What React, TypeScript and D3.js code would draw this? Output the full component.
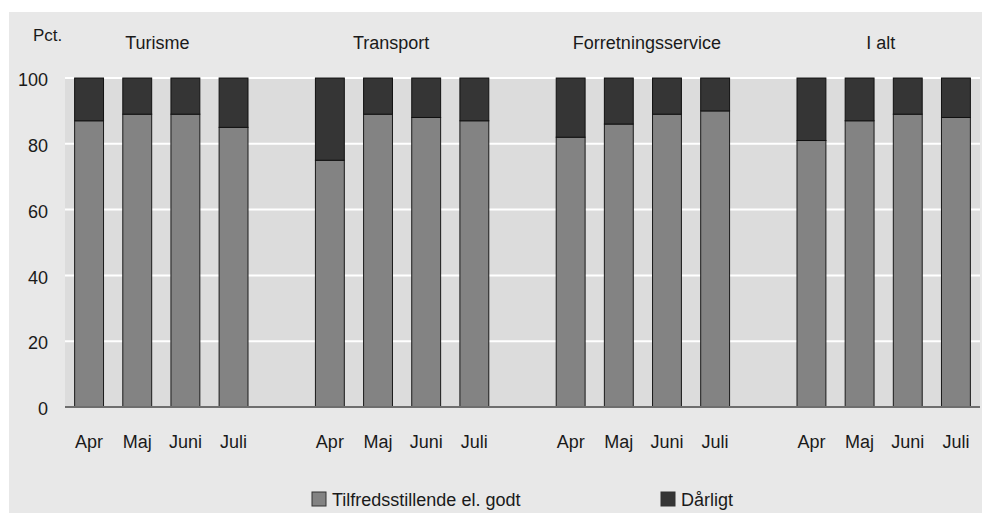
import React from 'react';
import * as d3 from 'd3';

const groups = ['Turisme', 'Transport', 'Forretningsservice', 'I alt'];
const months = ['Apr', 'Maj', 'Juni', 'Juli'];
// Tilfredsstillende el. godt, per group, Apr..Juli
const godt = [
    [87, 89, 89, 85],
    [75, 89, 88, 87],
    [82, 86, 89, 90],
    [81, 87, 89, 88],
];
const yTicks = [0, 20, 40, 60, 80, 100];
const seriesNames = ['Tilfredsstillende el. godt', 'Dårligt'];
const seriesColors = ['#838383', '#353535'];

const W = 982;
const H = 514;
const margin = { top: 78, right: 2, bottom: 107, left: 65 };
const font = '"Liberation Sans", Arial, sans-serif';
// group titles are not quite centred over their bars in the original
const titleShift = [-4, -11, 4, -3];

const App = () => {
    // one empty slot between the groups
    const keys: string[] = [];
    groups.forEach((g, gi) => {
        if (gi > 0) keys.push('gap' + gi);
        months.forEach(m => keys.push(g + '|' + m));
    });

    const x = d3.scaleBand<string>()
        .domain(keys)
        .range([margin.left, W - margin.right])
        .paddingInner(0.4)
        .paddingOuter(0.2);

    const y = d3.scaleLinear()
        .domain([0, 100])
        .range([H - margin.bottom, margin.top]);

    const bars = groups.flatMap((g, gi) => months.map((m, mi) => ({
        key: g + '|' + m,
        month: m,
        good: godt[gi][mi],
    })));

    const groupCenter = (g: string) => {
        const a = x(g + '|' + months[0])!;
        const b = x(g + '|' + months[months.length - 1])! + x.bandwidth();
        return (a + b) / 2;
    };

    return (
        <svg width={W} height={H} style={{ position: 'absolute', left: 0, top: 0 }} fontFamily={font}>
            <rect x={9} y={12} width={W - 9} height={H - 13} fill="#e8e8e8" />
            <rect x={margin.left} y={y(100)} width={W - margin.right - margin.left} height={y(0) - y(100)} fill="#dcdcdc" />

            {yTicks.filter(t => t > 0).map(t => (
                <line key={t} x1={margin.left} x2={W - margin.right} y1={y(t)} y2={y(t)} stroke="#ffffff" strokeWidth={2} />
            ))}

            {bars.map(d => (
                <g key={d.key}>
                    <rect x={x(d.key)} y={y(d.good)} width={x.bandwidth()} height={y(0) - y(d.good)}
                        fill={seriesColors[0]} stroke="#1a1a1a" strokeWidth={1} />
                    <rect x={x(d.key)} y={y(100)} width={x.bandwidth()} height={y(d.good) - y(100)}
                        fill={seriesColors[1]} stroke="#111111" strokeWidth={1} />
                </g>
            ))}

            <line x1={margin.left} x2={W - margin.right} y1={y(0)} y2={y(0)} stroke="#6e6e6e" strokeWidth={2} />

            {yTicks.map(t => (
                <text key={t} x={48} y={y(t)} dy="0.45em" textAnchor="end" fontSize={18} fill="#1a1a1a">{t}</text>
            ))}
            <text x={33} y={41} fontSize={17} fill="#1a1a1a">Pct.</text>

            {groups.map((g, gi) => (
                <text key={g} x={groupCenter(g) + titleShift[gi]} y={49} textAnchor="middle" fontSize={18} fill="#1a1a1a">{g}</text>
            ))}

            {bars.map(d => (
                <text key={d.key} x={x(d.key)! + x.bandwidth() / 2} y={448} textAnchor="middle" fontSize={18} fill="#1a1a1a">{d.month}</text>
            ))}

            {seriesNames.map((s, i) => {
                const lx = i === 0 ? 312 : 661;
                return (
                    <g key={s}>
                        <rect x={lx} y={492} width={14} height={14} fill={seriesColors[i]} stroke="#333" strokeWidth={1} />
                        <text x={lx + 20} y={506} fontSize={18} fill="#1a1a1a">{s}</text>
                    </g>
                );
            })}
        </svg>
    );
};

export default App;
